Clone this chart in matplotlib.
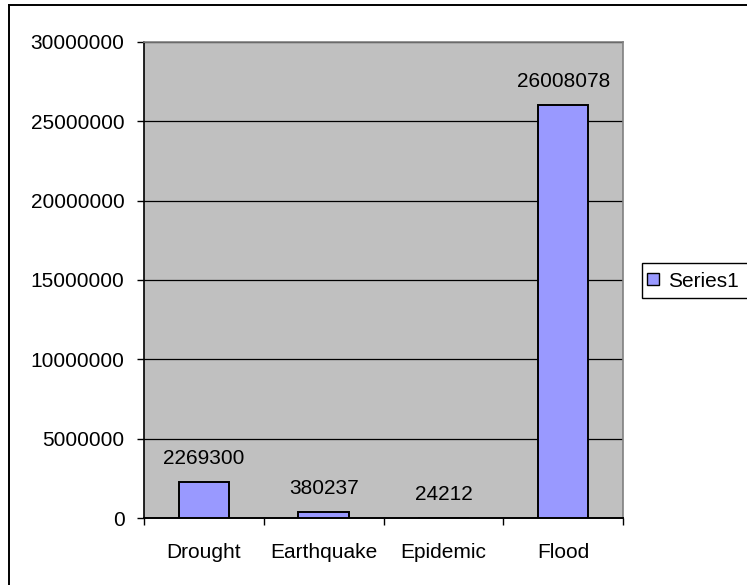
import matplotlib
matplotlib.use("Agg")
import matplotlib.pyplot as plt
from matplotlib.lines import Line2D
from matplotlib.patches import Patch, Rectangle

categories = ["Drought", "Earthquake", "Epidemic", "Flood"]
values = [2269300, 380237, 24212, 26008078]
series_name = "Series1"
y_ticks = [0, 5000000, 10000000, 15000000, 20000000, 25000000, 30000000]

plt.rcParams["font.family"] = ["Liberation Sans", "DejaVu Sans"]
FS = 15
bar_color = "#9999FF"
plot_bg = "#C0C0C0"

W, H = 747, 585
fig = plt.figure(figsize=(W / 100, H / 100), dpi=100)
fig.patch.set_facecolor("white")

# plot area in pixel coordinates
left, right, top, bottom = 144, 623, 42, 518
ax = fig.add_axes([left / W, 1 - bottom / H, (right - left) / W, (bottom - top) / H])
ax.set_facecolor(plot_bg)

x = list(range(len(categories)))
bars = ax.bar(x, values, width=0.42, color=bar_color, edgecolor="black",
              linewidth=1.4, zorder=3)

for xi, v in zip(x, values):
    ax.annotate(str(v), xy=(xi, v), xytext=(0, 13), textcoords="offset points",
                ha="center", va="baseline", fontsize=FS, color="black", zorder=4)

ax.set_xlim(-0.5, len(categories) - 0.5)
ax.set_ylim(y_ticks[0], y_ticks[-1])

ax.set_yticks(y_ticks)
ax.set_yticklabels([str(t) for t in y_ticks], fontsize=FS)
ax.tick_params(axis="y", direction="out", length=5, width=1, pad=9, colors="black")
ax.yaxis.grid(True, color="black", linewidth=0.9, zorder=1)
ax.set_axisbelow(True)

ax.set_xticks(x)
ax.set_xticklabels(categories, fontsize=FS)
ax.tick_params(axis="x", which="major", length=0, pad=18)
ax.set_xticks([i - 0.5 for i in range(len(categories) + 1)], minor=True)
ax.tick_params(axis="x", which="minor", direction="out", length=5, width=1, colors="black")

ax.spines["left"].set_color("black")
ax.spines["bottom"].set_color("black")
ax.spines["left"].set_linewidth(1.2)
ax.spines["bottom"].set_linewidth(1.4)
ax.spines["top"].set_color("#808080")
ax.spines["right"].set_color("#808080")
ax.spines["top"].set_linewidth(1.2)
ax.spines["right"].set_linewidth(1.2)

# chart border
bx, by = 9, 5
fig.add_artist(Line2D([bx / W, bx / W], [1 - by / H, 0], transform=fig.transFigure,
                      color="black", linewidth=1.4))
fig.add_artist(Line2D([bx / W, 1], [1 - by / H, 1 - by / H], transform=fig.transFigure,
                      color="black", linewidth=1.4))

# legend box runs past the right edge of the chart
lx0, ly0, lx1, ly1 = 642, 263, 780, 298
fig.add_artist(Rectangle((lx0 / W, 1 - ly1 / H), (lx1 - lx0) / W, (ly1 - ly0) / H,
                         transform=fig.transFigure, facecolor="white",
                         edgecolor="black", linewidth=1.0))

handle = Patch(facecolor=bar_color, edgecolor="black", linewidth=1.0)
leg = fig.legend([handle], [series_name], loc="center left",
                 bbox_to_anchor=(643 / W, 1 - 281 / H), fontsize=FS,
                 frameon=False,
                 handlelength=0.55, handleheight=0.55, handletextpad=0.45,
                 borderpad=0.2, borderaxespad=0)

fig.savefig("out.png", dpi=100, facecolor="white")
